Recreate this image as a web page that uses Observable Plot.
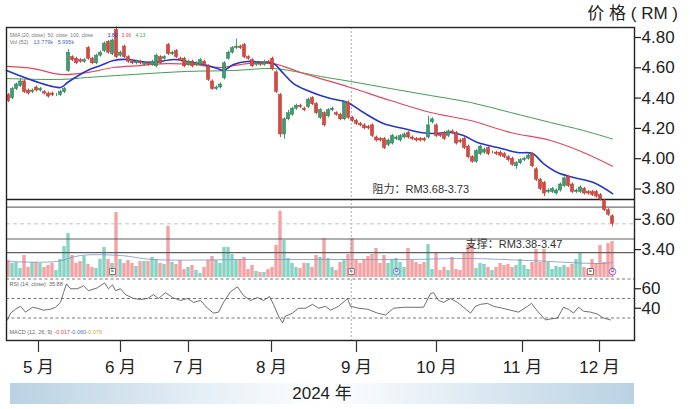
<!DOCTYPE html>
<html><head><meta charset="utf-8">
<script src="https://cdn.jsdelivr.net/npm/d3@7"></script>
<script src="https://cdn.jsdelivr.net/npm/@observablehq/plot@0.6"></script>
<style>
html,body{margin:0;padding:0;background:#fff;}
#wrap{position:relative;width:690px;height:409px;overflow:hidden;font-family:"Liberation Sans","Noto Sans CJK SC",sans-serif;color:#222;}
#wrap svg{position:absolute;left:0;}
#title{position:absolute;right:12px;top:4px;font-size:17px;line-height:20px;white-space:pre;}
#band{position:absolute;left:10px;top:383px;width:624px;height:21px;line-height:21px;text-align:center;font-size:17px;
background:linear-gradient(to right,#b9d2e3 0%,#e4eef5 30%,#ffffff 50%,#e4eef5 70%,#b9d2e3 100%);}
</style></head><body>
<div id="wrap"><div id="title">价 格 ( RM )</div><div id="band">2024 年</div></div>
<script>
// ---- data ----
const open = [4.42,4.40,4.46,4.48,4.51,4.45,4.44,4.47,4.45,4.44, 4.43,4.43,4.42,4.42,4.44,4.58,4.67,4.66,4.65,4.64, 4.73,4.66,4.63,4.68,4.71,4.77,4.69,4.85,4.68,4.74, 4.67,4.64,4.63,4.64,4.62,4.63,4.62,4.61,4.67,4.66, 4.75,4.69,4.71,4.66,4.66,4.62,4.64,4.62,4.62,4.64, 4.61,4.51,4.46,4.47,4.53,4.66,4.70,4.73,4.74,4.75, 4.67,4.65,4.62,4.63,4.62,4.64,4.66,4.57,4.42,4.16, 4.26,4.29,4.33,4.35,4.33,4.34,4.40,4.36,4.27,4.30, 4.28,4.32,4.30,4.29,4.26,4.37,4.27,4.25,4.23,4.22, 4.21,4.22,4.14,4.13,4.13,4.09,4.10,4.13,4.12,4.14, 4.17,4.14,4.13,4.13,4.13,4.14,4.24,4.22,4.16,4.17, 4.15,4.18,4.17,4.12,4.13,4.08,4.01,3.98,4.03,4.04, 4.07,4.04,4.04,4.04,4.03,4.01,4.00,3.95,3.97,3.99, 4.00,4.03,3.93,3.86,3.84,3.78,3.78,3.77,3.79,3.82, 3.88,3.83,3.78,3.78,3.80,3.78,3.78,3.78,3.76,3.72, 3.66,3.62];
const close = [4.38,4.46,4.49,4.51,4.44,4.43,4.45,4.45,4.46,4.43, 4.41,4.42,4.42,4.44,4.46,4.70,4.65,4.63,4.64,4.65, 4.66,4.63,4.68,4.70,4.76,4.70,4.78,4.67,4.70,4.67, 4.64,4.63,4.64,4.63,4.63,4.62,4.64,4.68,4.63,4.67, 4.69,4.70,4.67,4.65,4.61,4.64,4.61,4.63,4.65,4.62, 4.52,4.46,4.47,4.49,4.63,4.70,4.73,4.74,4.73,4.67, 4.66,4.61,4.63,4.62,4.64,4.63,4.59,4.44,4.16,4.26, 4.30,4.33,4.35,4.34,4.32,4.39,4.36,4.30,4.32,4.22, 4.32,4.33,4.29,4.26,4.37,4.27,4.25,4.23,4.22,4.20, 4.20,4.15,4.12,4.12,4.07,4.12,4.15,4.14,4.15,4.16, 4.14,4.13,4.12,4.12,4.12,4.22,4.26,4.15,4.15,4.13, 4.18,4.17,4.10,4.11,4.07,4.01,3.98,4.05,4.08,4.06, 4.03,4.04,4.03,4.02,4.01,3.99,3.96,3.97,3.99,4.00, 4.02,3.95,3.86,3.80,3.77,3.79,3.80,3.79,3.83,3.87, 3.82,3.78,3.79,3.81,3.77,3.77,3.76,3.75,3.73,3.66, 3.63,3.57];
const high = [4.43,4.47,4.50,4.53,4.52,4.46,4.46,4.48,4.47,4.45, 4.44,4.44,4.43,4.45,4.47,4.72,4.68,4.67,4.66,4.66, 4.74,4.67,4.69,4.71,4.77,4.78,4.79,4.87,4.71,4.75, 4.68,4.65,4.65,4.65,4.64,4.64,4.65,4.69,4.68,4.68, 4.76,4.71,4.72,4.67,4.67,4.65,4.65,4.64,4.66,4.65, 4.62,4.52,4.48,4.50,4.64,4.71,4.74,4.79,4.75,4.76, 4.68,4.66,4.64,4.64,4.65,4.65,4.67,4.58,4.43,4.27, 4.32,4.34,4.36,4.36,4.34,4.40,4.41,4.37,4.33,4.31, 4.33,4.34,4.31,4.30,4.38,4.38,4.28,4.26,4.24,4.23, 4.22,4.23,4.15,4.14,4.14,4.13,4.16,4.15,4.16,4.17, 4.18,4.15,4.14,4.14,4.14,4.28,4.27,4.23,4.17,4.18, 4.19,4.19,4.18,4.13,4.14,4.09,4.02,4.06,4.09,4.07, 4.08,4.05,4.05,4.05,4.04,4.02,4.01,3.98,4.00,4.01, 4.03,4.04,3.94,3.87,3.85,3.80,3.81,3.80,3.84,3.88, 3.89,3.84,3.80,3.82,3.81,3.79,3.79,3.79,3.77,3.73, 3.67,3.63];
const low = [4.37,4.39,4.45,4.47,4.43,4.42,4.43,4.44,4.44,4.42, 4.40,4.41,4.41,4.41,4.43,4.57,4.64,4.62,4.63,4.63, 4.65,4.62,4.62,4.67,4.70,4.69,4.68,4.66,4.67,4.66, 4.63,4.62,4.62,4.62,4.61,4.61,4.61,4.60,4.62,4.65, 4.68,4.68,4.66,4.64,4.60,4.61,4.60,4.61,4.61,4.61, 4.51,4.45,4.45,4.46,4.52,4.65,4.69,4.72,4.72,4.66, 4.65,4.60,4.61,4.61,4.61,4.62,4.58,4.43,4.14,4.13, 4.25,4.28,4.32,4.33,4.31,4.33,4.35,4.29,4.26,4.21, 4.27,4.31,4.28,4.25,4.25,4.26,4.24,4.22,4.21,4.19, 4.19,4.14,4.11,4.11,4.06,4.08,4.09,4.12,4.11,4.13, 4.13,4.12,4.11,4.11,4.11,4.13,4.23,4.14,4.14,4.12, 4.14,4.16,4.09,4.10,4.06,4.00,3.97,3.97,4.02,4.03, 4.02,4.03,4.02,4.01,4.00,3.98,3.95,3.93,3.96,3.98, 3.99,3.94,3.85,3.79,3.75,3.77,3.77,3.76,3.78,3.81, 3.81,3.77,3.77,3.77,3.76,3.76,3.75,3.74,3.72,3.65, 3.62,3.55];
const volume = [1.7,1.4,1.5,0.9,2.2,1.0,1.5,1.5,1.4,1.0, 1.2,1.4,0.7,1.8,3.1,4.4,2.2,1.4,1.6,2.1, 1.3,1.0,0.9,1.8,3.0,1.8,1.4,6.5,1.8,1.4, 1.7,1.4,1.1,1.6,1.6,1.6,2.0,1.8,1.4,1.3, 5.1,1.5,1.3,1.7,0.8,1.0,1.2,0.7,0.4,1.0, 1.7,2.1,1.7,1.4,3.0,3.0,2.3,1.8,1.8,2.0, 0.8,1.2,0.6,0.5,0.5,0.8,1.0,3.2,6.6,3.7, 1.9,1.4,1.0,0.9,1.4,1.4,1.0,2.2,2.0,3.9, 1.9,1.0,0.7,1.5,1.8,2.3,3.9,1.7,1.4,1.8, 2.1,2.3,2.9,1.4,2.2,1.4,1.8,1.9,1.5,1.0, 2.9,1.7,1.5,1.3,1.5,3.3,0.8,2.4,0.7,1.0, 0.7,2.0,0.8,0.7,2.4,3.2,3.4,0.9,1.4,1.3, 1.0,0.7,1.0,1.4,1.2,1.3,1.0,1.2,1.8,1.2, 0.8,1.5,2.8,1.5,2.8,1.5,0.8,1.1,1.0,1.2, 1.0,1.3,1.8,2.5,1.0,0.8,1.8,1.4,3.2,1.5, 3.4,3.6];

// moving averages: [trading-day index, price]
const smaBlue = [[-0.5,4.582],[13,4.470],[14.75,4.503],[19.75,4.582],[23,4.615],[26.25,4.648],[29.75,4.655],[33,4.642],[36.25,4.635],[41.25,4.655],[44.75,4.642],[48.75,4.622],[52.25,4.595],[53.75,4.582],[56.25,4.622],[59.75,4.642],[63.75,4.635],[66.25,4.628],[68.75,4.562],[71.25,4.496],[74.75,4.450],[78,4.417],[80.5,4.397],[84.75,4.371],[88.75,4.305],[93.75,4.232],[98.75,4.199],[103,4.173],[106.25,4.166],[110.5,4.173],[113.75,4.153],[117.25,4.107],[122.25,4.074],[127.25,4.041],[131,4.034],[133.75,3.968],[137.25,3.909],[141.25,3.876],[146.25,3.843],[151,3.770]];
const smaRed = [[-0.5,4.609],[6.25,4.595],[13,4.556],[19.75,4.569],[26.25,4.602],[33,4.615],[39.75,4.628],[46.25,4.622],[53,4.602],[59.75,4.628],[66.25,4.628],[73,4.569],[78,4.529],[85.5,4.470],[95.5,4.384],[105.5,4.305],[115.5,4.252],[125.5,4.173],[135.5,4.120],[143.75,4.041],[151,3.950]];
const smaGreen = [[-0.5,4.529],[13,4.523],[19.75,4.536],[31.25,4.556],[44.75,4.576],[56.25,4.582],[66.25,4.595],[73,4.569],[78,4.543],[85.5,4.510],[95.5,4.463],[105.5,4.417],[115.5,4.371],[125.5,4.305],[135.5,4.239],[143.75,4.186],[151,4.130]];
const volMA = [[0,1.6],[12,1.6],[18,2.2],[28,2.2],[36,1.8],[60,1.8],[80,1.8],[100,1.8],[115,1.9],[130,1.7],[148,1.4],[151,1.5]];
const rsiIdx = [-0.25,0.5,1.75,3,4.25,6,7.25,8.75,10.5,11.75,13,13.75,14.5,15.5,17.25,18.75,20,22.25,24,25,26,26.75,28,29.25,31.25,33,34.75,36.25,37.5,39.25,41,43,44.75,46.25,48,49.75,51.25,52.5,53.75,55.5,57.25,58.75,60.5,62.25,63.75,65.25,66.25,67.5,68.5,69.25,71,72.5,74.25,76,77.5,79.25,80.5,82.5,84.75,85.5,87.5,89.75,92.25,94.25,96.25,98.75,101,103.75,105.5,106.25,107.5,108.75,110.5,112.25,113.75,115.5,116.75,118,119.75,121.25,123.5,125.5,127.5,129.75,130.75,132.25,134.25,135.5,137.25,138.75,140,141.25,142.5,143.75,145.5,147.25,148.75,150.5];
const rsiVal = [28,35,39,42,36,41,40,38,39,41,46,56,65,60,60,63,58,61,66,60,64,58,60,54,50,49,50,54,50,56,51,48,50,46,48,40,35,36,46,57,62,53,48,51,48,52,44,32,25,32,35,40,40,44,40,42,38,42,50,42,40,39,35,33,40,41,41,41,55,56,48,46,50,46,41,35,42,44,45,42,40,38,36,42,45,37,28,29,30,41,39,35,41,37,36,34,30,28];

const priceTicks = [4.8,4.6,4.4,4.2,4.0,3.8,3.6,3.4];
const rsiTicks = [60,40];
const rsiLevels = [70,50,30];
const monthTicks = [7.5,28,45,65.75,87,107,128.5,147.75];
const monthLabels = ["5 月","6 月","7 月","8 月","9 月","10 月","11 月","12 月"];
const resistance = [3.73,3.68];
const support = [3.47,3.38];
const lastPrice = [3.57];
const crosshair = [85.7];
const markerIdx = [26,85.7,97,145.5,151];
const markerKind = ["box","box","blue","box","purple"];
const markerText = ["E","E","D","E","D"];
const notes = ["阻力：RM3.68-3.73","支撑：RM3.38-3.47"];
const noteIdx = [91,114.3];
const notePrice = [3.80,3.437];

// ---- build ----
const fam = '"Liberation Sans","Noto Sans CJK SC",sans-serif';
const RED = "#d84a3f", GREEN = "#3f9c6f";
const candles = open.map((o,i)=>({i,o,c:close[i],h:high[i],l:low[i],v:volume[i],up:close[i]>=open[i]}));
const XD = [-0.5,156.5];
const W = 690;
const monthMap = new Map(monthTicks.map((t,i)=>[t,monthLabels[i]]));
const pt = a => a.map(([x,y])=>({x,y}));
const rsi = rsiIdx.map((x,i)=>({x,y:rsiVal[i]}));
const markers = markerIdx.map((x,i)=>({x,k:markerKind[i],t:markerText[i]}));
const noteData = notes.map((t,i)=>({t,x:noteIdx[i],y:notePrice[i]}));

const volPlot = Plot.plot({
  width: W, height: 80, marginLeft: 6, marginRight: 56, marginTop: 12, marginBottom: 3,
  x: {domain: XD, axis: null}, y: {domain: [0,6.5], axis: null},
  style: {background: "none", fontFamily: fam},
  marks: [
    Plot.rect(candles, {x1: d=>d.i-0.42, x2: d=>d.i+0.42, y1: 0, y2: "v", fill: d=>d.up?"#86d3c3":"#f3a3a3"}),
    Plot.line(pt(volMA), {x:"x", y:"y", stroke:"#7a93c8", strokeWidth:0.8, curve:"catmull-rom"}),
    Plot.dot(markers.filter(d=>d.k==="box"), {x:"x", frameAnchor:"bottom", dy:-6, symbol:"square", r:3.4, fill:"#fff", stroke:"#666", strokeWidth:0.8}),
    Plot.dot(markers.filter(d=>d.k==="blue"), {x:"x", frameAnchor:"bottom", dy:-6, r:3.4, fill:"#d5e3fa", stroke:"#5a84d4", strokeWidth:0.8}),
    Plot.dot(markers.filter(d=>d.k==="purple"), {x:"x", frameAnchor:"bottom", dy:-6, r:3.4, fill:"#ebdff8", stroke:"#8b62cf", strokeWidth:0.8}),
    Plot.text(markers, {x:"x", frameAnchor:"bottom", dy:-6, text:"t", fontSize:4.5, fill:"#444"})
  ]
});
volPlot.style.top = "200px";

const rsiPlot = Plot.plot({
  width: W, height: 70, marginLeft: 6, marginRight: 56, marginTop: 8.5, marginBottom: 22.5,
  x: {domain: XD, axis: null}, y: {domain: [30,70], axis: null},
  style: {background: "none", fontFamily: fam, color:"#222"},
  marks: [
    Plot.ruleY(rsiLevels, {stroke:"#555", strokeDasharray:"3,2.5", strokeWidth:0.8}),
    Plot.line(rsi, {x:"x", y:"y", stroke:"#4a4a4a", strokeWidth:0.8}),
    Plot.axisY({anchor:"right", ticks: rsiTicks, tickSize: 6, tickPadding: 1, fontSize: 17, label: null, stroke:"#222", strokeWidth:1.2})
  ]
});
rsiPlot.style.top = "270px";

const mainPlot = Plot.plot({
  width: W, height: 380, marginLeft: 6, marginRight: 56, marginTop: 27, marginBottom: 40,
  x: {domain: XD}, y: {domain: [2.80, 4.866]},
  style: {background: "none", fontFamily: fam, color:"#222"},
  marks: [
    Plot.ruleX(crosshair, {stroke:"#9a9a9a", strokeDasharray:"2,2", strokeWidth:0.8}),
    Plot.ruleY(lastPrice, {stroke:"#c4c4c4", strokeDasharray:"4,3", strokeWidth:1}),
    Plot.ruleY([resistance[0]], {stroke:"#1e1e1e", strokeWidth:1.5}),
    Plot.ruleY([resistance[1]], {stroke:"#707070", strokeWidth:1.2}),
    Plot.ruleY(support, {stroke:"#606060", strokeWidth:1.2}),
    Plot.line(pt(smaGreen), {x:"x", y:"y", stroke:"#3f9e50", strokeWidth:1, curve:"catmull-rom"}),
    Plot.line(pt(smaRed), {x:"x", y:"y", stroke:"#e2475c", strokeWidth:1.2, curve:"catmull-rom"}),
    Plot.line(pt(smaBlue), {x:"x", y:"y", stroke:"#2436c8", strokeWidth:1.6, curve:"catmull-rom"}),
    Plot.ruleX(candles, {x:"i", y1:"l", y2:"h", stroke: d=>d.up?GREEN:RED, strokeWidth:1}),
    Plot.rect(candles, {x1:d=>d.i-0.4, x2:d=>d.i+0.4, y1:"o", y2:"c", fill:d=>d.up?GREEN:RED, stroke:d=>d.up?"#2d7a55":"#b03a30", strokeWidth:0.5}),
    Plot.text(noteData, {x:"x", y:"y", text:"t", textAnchor:"start", fontSize:11, fill:"#333"}),
    Plot.text(["SMA (20, close)  50, close  100, close"], {frameAnchor:"top-left", dx:3, dy:6, fontSize:5, fill:"#777", textAnchor:"start"}),
    Plot.text(["3.80"], {frameAnchor:"top-left", dx:101, dy:6, fontSize:5, fill:"#2436c8", textAnchor:"start"}),
    Plot.text(["3.96"], {frameAnchor:"top-left", dx:115, dy:6, fontSize:5, fill:"#e2475c", textAnchor:"start"}),
    Plot.text(["4.13"], {frameAnchor:"top-left", dx:129, dy:6, fontSize:5, fill:"#3f9e50", textAnchor:"start"}),
    Plot.text(["Vol (52)"], {frameAnchor:"top-left", dx:3, dy:13, fontSize:5.5, fill:"#777", textAnchor:"start"}),
    Plot.text(["13.779k   5.995k"], {frameAnchor:"top-left", dx:27, dy:13, fontSize:5.5, fill:"#4a70c0", textAnchor:"start"}),
    Plot.text(["RSI (14, close)  35.88"], {frameAnchor:"top-left", dx:3, dy:255, fontSize:5.5, fill:"#666", textAnchor:"start"}),
    Plot.text(["MACD (12, 26, 9)"], {frameAnchor:"top-left", dx:3, dy:303, fontSize:5.5, fill:"#666", textAnchor:"start"}),
    Plot.text(["-0.017"], {frameAnchor:"top-left", dx:48, dy:303, fontSize:5.5, fill:"#e2475c", textAnchor:"start"}),
    Plot.text(["-0.060"], {frameAnchor:"top-left", dx:64, dy:303, fontSize:5.5, fill:"#4a70c0", textAnchor:"start"}),
    Plot.text(["-0.076"], {frameAnchor:"top-left", dx:80, dy:303, fontSize:5.5, fill:"#e0a030", textAnchor:"start"}),
    Plot.frame({stroke:"#222", strokeWidth:1.4}),
    Plot.axisY({anchor:"right", ticks: priceTicks, tickFormat: d3.format(".2f"), tickSize: 6, tickPadding: 1, fontSize: 17, label: null, stroke:"#222", strokeWidth:1.2}),
    Plot.axisX({anchor:"bottom", ticks: monthTicks, tickFormat: d=>monthMap.get(d), tickSize: 12, tickPadding: 8, fontSize: 17, label: null, stroke:"#333", strokeWidth:1.2})
  ]
});
mainPlot.style.top = "0px";

const wrap = document.getElementById("wrap");
wrap.appendChild(volPlot);
wrap.appendChild(rsiPlot);
wrap.appendChild(mainPlot);
</script></body></html>
